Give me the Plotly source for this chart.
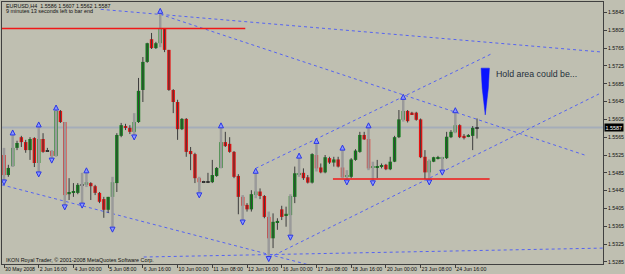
import plotly.graph_objects as go

# ---------------- data (EURUSD H4) ----------------
open_ = [1.5525,1.5480,1.5500,1.5541,1.5565,1.5554,1.5536,1.5563,1.5507,1.5561,
         1.5534,1.5534,1.5523,1.5624,1.5599,1.5437,1.5440,1.5440,1.5458,1.5458,
         1.5462,1.5455,1.5440,1.5426,1.5402,1.5431,1.5462,1.5568,1.5590,1.5586,
         1.5577,1.5599,1.5671,1.5734,1.5785,1.5765,1.5776,1.5808,1.5761,1.5671,
         1.5644,1.5583,1.5606,1.5534,1.5527,1.5473,1.5464,1.5464,1.5464,1.5478,
         1.5496,1.5554,1.5550,1.5532,1.5478,1.5431,1.5413,1.5403,1.5435,1.5443,
         1.5433,1.5386,1.5338,1.5373,1.5403,1.5390,1.5390,1.5431,1.5482,1.5485,
         1.5475,1.5463,1.5525,1.5497,1.5486,1.5518,1.5508,1.5515,1.5497,1.5476,
         1.5476,1.5514,1.5532,1.5570,1.5561,1.5497,1.5497,1.5500,1.5503,1.5493,
         1.5510,1.5565,1.5604,1.5624,1.5620,1.5620,1.5605,1.5521,1.5486,1.5510,
         1.5517,1.5517,1.5518,1.5565,1.5576,1.5592,1.5568,1.5566,1.5568,1.5586]
high = [1.5541,1.5503,1.5570,1.5557,1.5568,1.5559,1.5565,1.5565,1.5588,1.5574,
        1.5541,1.5536,1.5626,1.5626,1.5599,1.5473,1.5462,1.5462,1.5485,1.5485,
        1.5464,1.5458,1.5442,1.5431,1.5431,1.5476,1.5574,1.5597,1.5595,1.5592,
        1.5619,1.5698,1.5745,1.5777,1.5799,1.5779,1.5843,1.5810,1.5761,1.5673,
        1.5649,1.5608,1.5608,1.5543,1.5530,1.5476,1.5467,1.5485,1.5514,1.5498,
        1.5586,1.5577,1.5565,1.5534,1.5482,1.5435,1.5417,1.5446,1.5484,1.5450,
        1.5435,1.5398,1.5394,1.5383,1.5411,1.5409,1.5437,1.5499,1.5518,1.5495,
        1.5480,1.5529,1.5551,1.5506,1.5525,1.5521,1.5521,1.5521,1.5536,1.5491,
        1.5518,1.5538,1.5577,1.5577,1.5586,1.5510,1.5514,1.5506,1.5505,1.5521,
        1.5568,1.5626,1.5650,1.5626,1.5622,1.5622,1.5607,1.5536,1.5515,1.5521,
        1.5523,1.5521,1.5577,1.5581,1.5620,1.5594,1.5572,1.5572,1.5590,1.5607]
low = [1.5469,1.5476,1.5498,1.5536,1.5543,1.5530,1.5514,1.5498,1.5487,1.5530,
       1.5532,1.5518,1.5521,1.5597,1.5413,1.5424,1.5431,1.5437,1.5417,1.5453,
       1.5424,1.5435,1.5417,1.5384,1.5395,1.5363,1.5442,1.5565,1.5581,1.5572,
       1.5570,1.5597,1.5644,1.5732,1.5763,1.5763,1.5767,1.5756,1.5669,1.5619,
       1.5559,1.5581,1.5521,1.5491,1.5462,1.5440,1.5462,1.5462,1.5462,1.5476,
       1.5495,1.5543,1.5530,1.5473,1.5392,1.5379,1.5398,1.5398,1.5428,1.5426,
       1.5383,1.5297,1.5316,1.5357,1.5379,1.5364,1.5345,1.5417,1.5476,1.5469,
       1.5461,1.5461,1.5488,1.5484,1.5484,1.5505,1.5499,1.5497,1.5473,1.5469,
       1.5473,1.5512,1.5530,1.5559,1.5491,1.5467,1.5473,1.5495,1.5491,1.5491,
       1.5509,1.5563,1.5600,1.5598,1.5615,1.5602,1.5518,1.5471,1.5469,1.5509,
       1.5515,1.5491,1.5516,1.5563,1.5574,1.5563,1.5560,1.5565,1.5536,1.5562]
close = [1.5480,1.5496,1.5541,1.5552,1.5554,1.5536,1.5561,1.5507,1.5561,1.5532,
         1.5533,1.5523,1.5624,1.5599,1.5435,1.5442,1.5444,1.5458,1.5457,1.5464,
         1.5455,1.5440,1.5420,1.5402,1.5431,1.5464,1.5570,1.5592,1.5586,1.5577,
         1.5599,1.5669,1.5734,1.5776,1.5765,1.5776,1.5808,1.5761,1.5671,1.5644,
         1.5583,1.5606,1.5532,1.5527,1.5473,1.5464,1.5465,1.5465,1.5480,1.5496,
         1.5554,1.5545,1.5532,1.5476,1.5431,1.5411,1.5403,1.5437,1.5443,1.5433,
         1.5386,1.5338,1.5375,1.5377,1.5386,1.5393,1.5433,1.5484,1.5484,1.5473,
         1.5463,1.5527,1.5495,1.5486,1.5520,1.5508,1.5515,1.5499,1.5475,1.5478,
         1.5515,1.5535,1.5570,1.5560,1.5495,1.5499,1.5500,1.5502,1.5493,1.5510,
         1.5565,1.5605,1.5624,1.5601,1.5617,1.5604,1.5520,1.5486,1.5512,1.5520,
         1.5519,1.5519,1.5566,1.5577,1.5592,1.5565,1.5563,1.5570,1.5586,1.5587]
bars = list(range(len(close)))

fractal_up = [2, 8, 12, 19, 36, 50, 58, 68, 72, 78, 84, 92, 104]
fractal_down = [0, 8, 11, 14, 18, 25, 30, 45, 55, 61, 66, 79, 85, 98, 101]

x_tick_bars = [0, 8, 16, 24, 32, 40, 48, 56, 64, 72, 80, 88, 96, 104]
x_tick_labels = ["30 May 2008", "2 Jun 16:00", "4 Jun 00:00", "5 Jun 08:00",
                 "6 Jun 16:00", "10 Jun 00:00", "11 Jun 08:00", "12 Jun 16:00",
                 "16 Jun 00:00", "17 Jun 08:00", "18 Jun 16:00", "20 Jun 00:00",
                 "23 Jun 08:00", "24 Jun 16:00"]
y_tick_vals = [1.5285, 1.5325, 1.5365, 1.5405, 1.5445, 1.5485, 1.5525, 1.5565,
               1.5605, 1.5645, 1.5685, 1.5725, 1.5765, 1.5805, 1.5845]

# drawn objects: (bar, price) anchors
trend_lines = [((22.3, 1.5852), (138.0, 1.5756)),
               ((36.0, 1.5841), (134.4, 1.5523)),
               ((-0.5, 1.5458), (72.0, 1.5274)),
               ((32.2, 1.5296), (138.0, 1.5316)),
               ((61.0, 1.5294), (137.1, 1.5662)),
               ((58.0, 1.5495), (112.3, 1.5752))]
red_levels = [(-0.5, 55.6, 1.5809), (75.8, 111.9, 1.5471)]
hold_arrow = dict(left=109.95, right=111.85, top=1.5720, mid=1.5675, tip=1.5615)
hold_text = dict(bar=112.8, price=1.5707, text="Hold area could be...")

title1 = "EURUSD,H4  1.5586 1.5607 1.5562 1.5587"
title2 = "9 minutes 13 seconds left to bar end"
copyright_text = "IKON Royal Trader, \u00a9 2001-2008 MetaQuotes Software Corp."

# ---------------- layout constants ----------------
W, H = 625, 274
ML, MR, MT, MB = 1, 21, 2, 10
PW, PH = W - ML - MR, H - MT - MB
X_RANGE = [-0.46, 138.03]
Y_RANGE = [1.52803, 1.58685]
BG = "#bfbfb1"
FONT = "Liberation Sans"
price_per_px = (Y_RANGE[1] - Y_RANGE[0]) / PH

fig = go.Figure()

# trend lines
for (x0, y0), (x1, y1) in trend_lines:
    fig.add_trace(go.Scatter(x=[x0, x1], y=[y0, y1], mode="lines",
                             line=dict(color="#5563f2", width=1, dash="dot"),
                             hoverinfo="skip", showlegend=False))

# grey shadow on fractal bars
fb = sorted(set(fractal_up + fractal_down))
gx, gy = [], []
for i in fb:
    gx += [i, i, None]
    gy += [low[i], high[i], None]
fig.add_trace(go.Scatter(x=gx, y=gy, mode="lines",
                         line=dict(color="#9a9a9a", width=2.5),
                         hoverinfo="skip", showlegend=False))

# wicks
wx, wy = [], []
for i in bars:
    if i in fb:
        continue
    wx += [i, i, None]
    wy += [low[i], high[i], None]
fig.add_trace(go.Scatter(x=wx, y=wy, mode="lines",
                         line=dict(color="#3c3c3c", width=1),
                         hoverinfo="skip", showlegend=False))

# bodies
min_h = 0.00018
heights, bases, colors = [], [], []
for o, c in zip(open_, close):
    d = abs(c - o)
    if d < min_h:
        heights.append(min_h)
        bases.append((o + c) / 2 - min_h / 2)
        colors.append("#303030")
    else:
        heights.append(d)
        bases.append(min(o, c))
        colors.append("#10801a" if c > o else "#e81010")
fig.add_trace(go.Bar(x=bars, y=heights, base=bases, width=0.78,
                     marker=dict(color=colors, line=dict(width=0)),
                     hoverinfo="skip", showlegend=False))

# fractal markers
off = 5 * price_per_px
fig.add_trace(go.Scatter(x=fractal_up, y=[high[i] + off for i in fractal_up],
                         mode="markers",
                         marker=dict(symbol="arrow-up", size=5, color="#8a96ff",
                                     line=dict(color="#2a36e6", width=1)),
                         hoverinfo="skip", showlegend=False))
fig.add_trace(go.Scatter(x=fractal_down, y=[low[i] - off for i in fractal_down],
                         mode="markers",
                         marker=dict(symbol="arrow-down", size=5, color="#8a96ff",
                                     line=dict(color="#2a36e6", width=1)),
                         hoverinfo="skip", showlegend=False))

# red levels
for x0, x1, p in red_levels:
    fig.add_trace(go.Scatter(x=[x0, x1], y=[p, p], mode="lines",
                             line=dict(color="#f01818", width=1.5),
                             hoverinfo="skip", showlegend=False))

# hold arrow wedge
ha = hold_arrow
cx = (ha["left"] + ha["right"]) / 2
fig.add_trace(go.Scatter(
    x=[ha["left"], ha["right"], ha["right"] - 0.25, cx, ha["left"] + 0.25, ha["left"]],
    y=[ha["top"], ha["top"], ha["mid"], ha["tip"], ha["mid"], ha["top"]],
    mode="lines", fill="toself", fillcolor="#0a14ff",
    line=dict(color="#0a14ff", width=0.5), hoverinfo="skip", showlegend=False))

last = close[-1]

def px_x(px):
    return (px - ML) / PW

def px_y(py):
    return (H - MB - py) / PH

annotations = [
    dict(text=title1, x=px_x(3), y=px_y(6), xref="paper", yref="paper",
         xanchor="left", yanchor="middle", showarrow=False,
         font=dict(family=FONT, size=5.4, color="#101010")),
    dict(text=title2, x=px_x(3), y=px_y(11.5), xref="paper", yref="paper",
         xanchor="left", yanchor="middle", showarrow=False,
         font=dict(family=FONT, size=5.4, color="#101010")),
    dict(text=copyright_text, x=px_x(3), y=px_y(259.5), xref="paper", yref="paper",
         xanchor="left", yanchor="middle", showarrow=False,
         font=dict(family=FONT, size=5.4, color="#101010")),
    dict(text=hold_text["text"], x=hold_text["bar"], y=hold_text["price"],
         xref="x", yref="y", xanchor="left", yanchor="middle", showarrow=False,
         font=dict(family=FONT, size=8.8, color="#25303c")),
    dict(text="%.4f" % last, x=1, y=last, xref="paper", yref="y",
         xanchor="left", yanchor="middle", showarrow=False, xshift=1,
         bgcolor="#000000", borderpad=0.5,
         font=dict(family=FONT, size=5.4, color="#ffffff")),
]

fig.update_layout(
    width=W, height=H, autosize=False,
    margin=dict(l=ML, r=MR, t=MT, b=MB, pad=0),
    paper_bgcolor=BG, plot_bgcolor=BG,
    barmode="overlay", showlegend=False,
    annotations=annotations,
    shapes=[dict(type="line", xref="paper", yref="y", x0=0, x1=1, y0=last, y1=last,
                 line=dict(color="#a5adb9", width=2), layer="below")],
    xaxis=dict(range=X_RANGE, showgrid=False, zeroline=False,
               tickmode="array", tickvals=x_tick_bars, ticktext=x_tick_labels,
               ticks="outside", ticklen=3, tickcolor="#404040", tickwidth=1,
               tickangle=0, ticklabelposition="outside right",
               showline=True, linecolor="#404040", linewidth=1, mirror=True,
               tickfont=dict(family=FONT, size=5.2, color="#101010")),
    yaxis=dict(range=Y_RANGE, side="right", showgrid=False, zeroline=False,
               tickmode="array", tickvals=y_tick_vals,
               ticktext=["%.4f" % v for v in y_tick_vals],
               ticks="outside", ticklen=3, tickcolor="#404040", tickwidth=1,
               showline=True, linecolor="#404040", linewidth=1, mirror=True,
               tickfont=dict(family=FONT, size=5.2, color="#101010")),
)

fig.write_html("out.html")
